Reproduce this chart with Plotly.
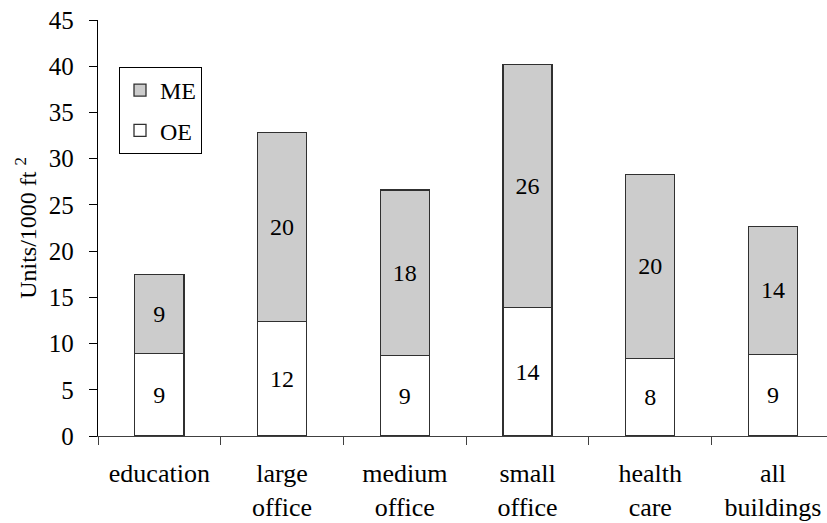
import plotly.graph_objects as go

categories = ["education", "large<br>office", "medium<br>office", "small<br>office", "health<br>care", "all<br>buildings"]
oe_values = [8.9, 12.4, 8.7, 13.9, 8.4, 8.8]
me_values = [8.6, 20.4, 17.9, 26.3, 19.9, 13.9]
oe_labels = ["9", "12", "9", "14", "8", "9"]
me_labels = ["9", "20", "18", "26", "20", "14"]
y_ticks = [0, 5, 10, 15, 20, 25, 30, 35, 40, 45]

FONT = "Times New Roman, Liberation Serif, DejaVu Serif, serif"

fig = go.Figure()
fig.add_trace(go.Bar(
    name="OE", x=categories, y=oe_values, text=oe_labels, legendgroup="oe", legendrank=2,
    textposition="inside", insidetextanchor="middle", constraintext="none",
    textfont=dict(family=FONT, size=24, color="black"),
    marker=dict(color="white", line=dict(color="#303030", width=1.3)),
    width=0.4,
))
fig.add_trace(go.Bar(
    name="ME", x=categories, y=me_values, text=me_labels, legendgroup="me", legendrank=1,
    textposition="inside", insidetextanchor="middle", constraintext="none",
    textfont=dict(family=FONT, size=24, color="black"),
    marker=dict(color="#cccccc", line=dict(color="#303030", width=1.3)),
    width=0.4,
))

fig.update_layout(
    barmode="stack",
    width=827, height=523,
    margin=dict(l=98, r=0, t=20, b=87, autoexpand=False),
    paper_bgcolor="white", plot_bgcolor="white",
    font=dict(family=FONT, size=24, color="black"),
    showlegend=True,
    legend=dict(
        x=(119 - 98) / 729, y=(436 - 67) / 416,
        xanchor="left", yanchor="top",
        traceorder="grouped",
        bgcolor="white", bordercolor="black", borderwidth=1,
        font=dict(family=FONT, size=24, color="black"),
        itemwidth=30, tracegroupgap=6,
    ),
)
fig.update_xaxes(
    showline=True, linecolor="#404040", linewidth=1.3,
    ticks="outside", ticklen=8, tickcolor="#404040", tickwidth=1.3,
    tickson="boundaries", showgrid=False, tickangle=0, automargin=False,
    tickfont=dict(family=FONT, size=26, color="black"),
    ticklabelstandoff=14,
    range=[-0.5, 5.44],
)
fig.update_yaxes(
    range=[0, 45], tickvals=y_ticks,
    showline=True, linecolor="black", linewidth=1.3,
    ticks="outside", ticklen=8, tickcolor="black", tickwidth=1.3,
    showgrid=False, zeroline=False, automargin=False,
    tickfont=dict(family=FONT, size=25, color="black"),
    ticklabelstandoff=10,
    title=dict(text="Units/1000 ft <sup>2</sup>", font=dict(family=FONT, size=24, color="black"), standoff=5),
)

fig.write_html(
    "out.html",
    config={"displayModeBar": False},
    post_script="document.body.style.margin='0';document.body.style.overflow='hidden';",
)
